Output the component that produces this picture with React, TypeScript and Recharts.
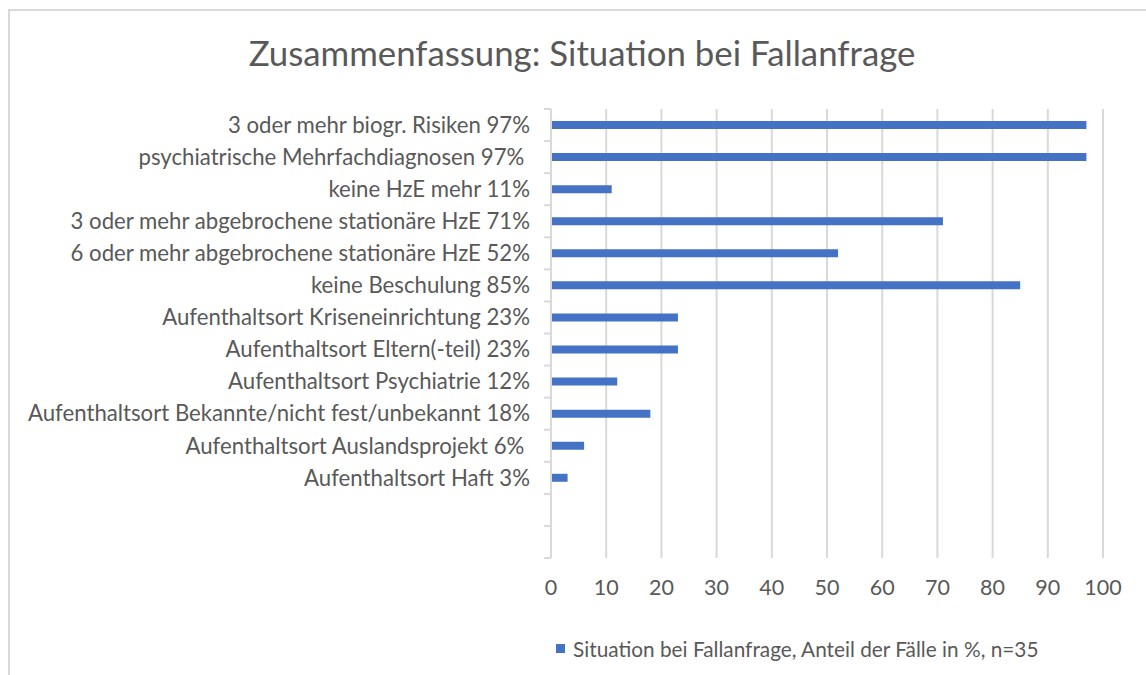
import React from 'react';
import { BarChart, Bar, XAxis, YAxis, CartesianGrid, Legend } from 'recharts';

const categories = [
  '3 oder mehr biogr. Risiken 97%',
  'psychiatrische Mehrfachdiagnosen 97% ',
  'keine HzE mehr 11%',
  '3 oder mehr abgebrochene stationäre HzE 71%',
  '6 oder mehr abgebrochene stationäre HzE 52%',
  'keine Beschulung 85%',
  'Aufenthaltsort Kriseneinrichtung 23%',
  'Aufenthaltsort Eltern(-teil) 23%',
  'Aufenthaltsort Psychiatrie 12%',
  'Aufenthaltsort Bekannte/nicht fest/unbekannt 18%',
  'Aufenthaltsort Auslandsprojekt 6% ',
  'Aufenthaltsort Haft 3%',
  '',
  ' ',
];
const values = [97, 97, 11, 71, 52, 85, 23, 23, 12, 18, 6, 3, null, null];
const xTicks = [0, 10, 20, 30, 40, 50, 60, 70, 80, 90, 100];
const seriesName = 'Situation bei Fallanfrage, Anteil der Fälle in %, n=35';
const title = 'Zusammenfassung: Situation bei Fallanfrage';

const data = categories.map((c, i) => ({ name: c, value: values[i] }));

const W = 1146;
const H = 675;
const AXIS_X = 551;
const TOP = 109;
const BOTTOM = 558;
const RIGHT = 1103;
const BAND = (BOTTOM - TOP) / categories.length;
const TEXT = '#595959';
const GRID = '#d9d9d9';
const BLUE = '#4472C4';
const FONT = 'Lato, "Open Sans", sans-serif';

const YTick = (props: any) => {
  const { y, payload, index } = props;
  const lines = [y - BAND / 2];
  if (index === categories.length - 1) lines.push(y + BAND / 2);
  return (
    <g>
      {lines.map((ly, i) => (
        <line key={i} x1={AXIS_X - 7} x2={AXIS_X} y1={ly} y2={ly} stroke={GRID} strokeWidth={2} />
      ))}
      <text
        x={AXIS_X - 21}
        y={y}
        dy="0.35em"
        textAnchor="end"
        fill={TEXT}
        fontSize={22.2}
        fontFamily={FONT}
        style={{ whiteSpace: 'pre' }}
      >
        {payload.value}
      </text>
    </g>
  );
};

const LegendContent = () => (
  <div style={{ position: 'relative', height: 0 }}>
    <div
      style={{
        position: 'absolute',
        left: 556,
        top: 0,
        display: 'flex',
        alignItems: 'center',
        whiteSpace: 'nowrap',
        fontFamily: FONT,
        fontSize: 20.8,
        color: TEXT,
      }}
    >
      <span style={{ display: 'inline-block', width: 9, height: 9, background: BLUE, marginRight: 8 }} />
      <span>{seriesName}</span>
    </div>
  </div>
);

export default function App() {
  return (
    <div style={{ position: 'absolute', left: 0, top: 0, width: W, height: H, background: '#fff' }}>
      <div
        style={{
          position: 'absolute',
          left: 8,
          top: 9,
          width: W,
          height: H,
          borderTop: `2px solid ${GRID}`,
          borderLeft: `2px solid ${GRID}`,
          boxSizing: 'border-box',
        }}
      />
      <div style={{ position: 'absolute', left: 0, top: 0 }}>
        <BarChart
          width={W}
          height={H}
          data={data}
          layout="vertical"
          margin={{ top: TOP, right: W - RIGHT, bottom: H - BOTTOM - 40, left: 0 }}
          barCategoryGap={0}
        >
          <text
            x={582}
            y={52}
            textAnchor="middle"
            dominantBaseline="central"
            fill={TEXT}
            fontSize={34.8}
            fontFamily={FONT}
          >
            {title}
          </text>
          <CartesianGrid horizontal={false} vertical stroke={GRID} strokeWidth={2} />
          <XAxis
            type="number"
            domain={[0, 100]}
            ticks={xTicks}
            axisLine={false}
            tickLine={false}
            tickSize={0}
            tickMargin={22}
            height={40}
            interval={0}
            tick={{ fill: TEXT, fontSize: 21.5, fontFamily: FONT }}
          />
          <YAxis
            type="category"
            dataKey="name"
            width={AXIS_X}
            axisLine={{ stroke: GRID, strokeWidth: 2 }}
            tickLine={false}
            interval={0}
            tick={<YTick />}
          />
          <Bar dataKey="value" name={seriesName} fill={BLUE} barSize={8} isAnimationActive={false} />
          <Legend
            verticalAlign="bottom"
            wrapperStyle={{ top: 636, left: 0, bottom: 'auto', width: W, height: 0 }}
            content={<LegendContent />}
          />
        </BarChart>
      </div>
    </div>
  );
}
